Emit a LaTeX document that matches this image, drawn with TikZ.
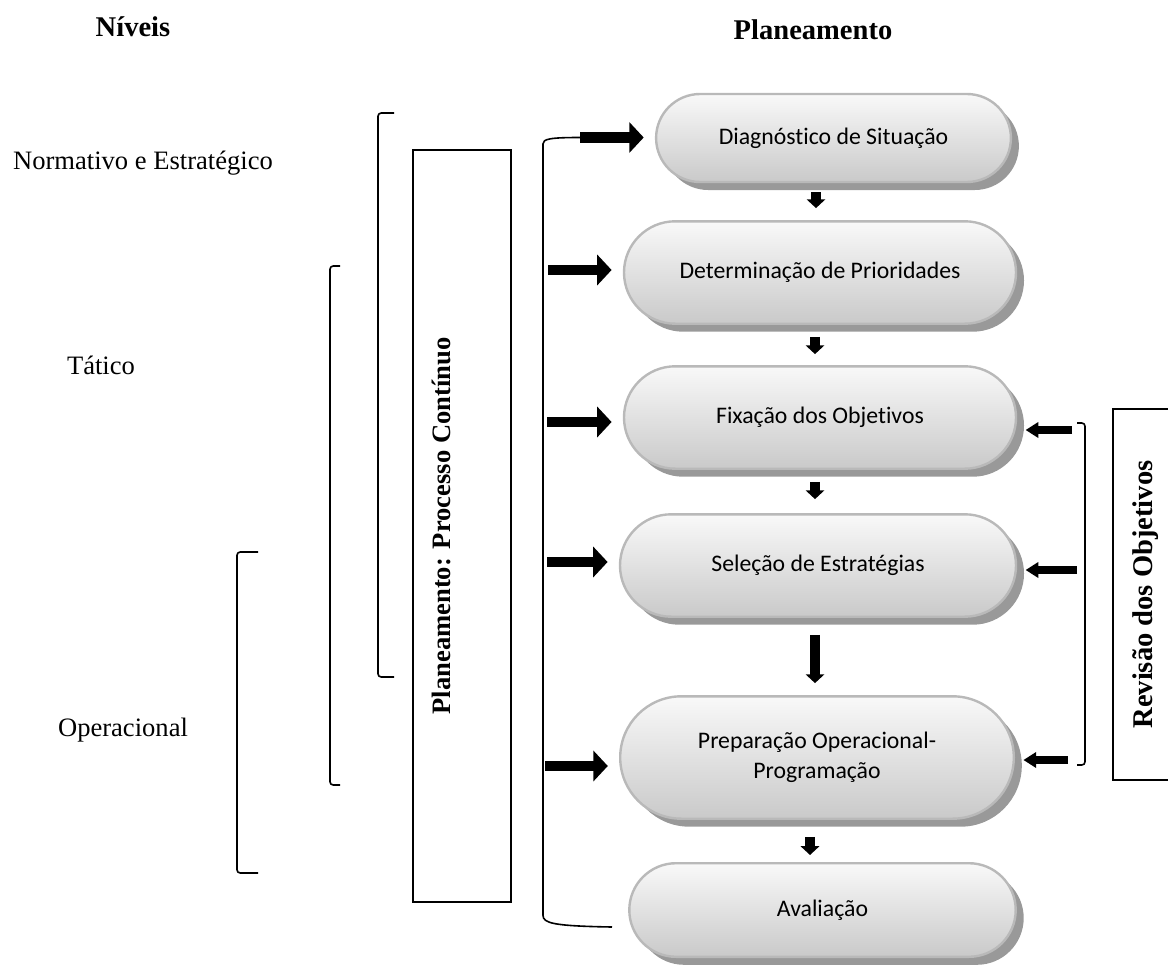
\documentclass[tikz,border=0pt]{standalone}
\usepackage{fontspec}
\setmainfont{Liberation Serif}
\newfontfamily\calibri[Ligatures=NoCommon]{Carlito}
\usetikzlibrary{positioning,calc,shapes.misc,shadows,arrows.meta}

\begin{document}
\begin{tikzpicture}[x=0.25mm,y=-0.25mm,
		pill/.style={rounded rectangle,draw=gray!55,line width=0.6mm,top color=gray!5,bottom color=gray!42,
			drop shadow={shadow xshift=2mm,shadow yshift=-2mm,fill=gray!80,opacity=1},
			font=\calibri\fontsize{16.9}{21.5}\selectfont,align=center,inner sep=0pt},
		bigarrow/.style={line width=2.7mm,-{Triangle[width=7.5mm,length=3.6mm]},shorten >=2.8mm},
		downarrow/.style={line width=2.3mm,-{Triangle[width=4.6mm,length=2.2mm]}},
		backarrow/.style={line width=2mm,-{Triangle[width=3.8mm,length=3.2mm]},shorten >=2.1mm},
		bracket/.style={line width=0.4mm,rounded corners=0.8mm},
		level/.style={font=\fontsize{18.9}{22}\selectfont},
		heading/.style={font=\bfseries\fontsize{20.3}{24}\selectfont}]

		\useasboundingbox (0,0) rectangle (1168,967);

		\node[heading]	(niveis)	at (133,27)	{Níveis};
		\node[heading]	(plan)		at (813,30)	{Planeamento};

		\node[level]	(norm)	at (143,163)	{Normativo e Estratégico};
		\node[level]	(tat)	at (101,365)	{Tático};
		\node[level]	(oper)	at (123,730)	{Operacional};

		\draw[bracket] (394,113) -- (378,113) -- (378,677) -- (394,677);
		\draw[bracket] (340,266) -- (330,266) -- (330,785) -- (340,785);
		\draw[bracket] (258,552) -- (237,552) -- (237,873) -- (258,873);

		\node[draw,line width=0.35mm,minimum width=24.5mm,minimum height=188mm,inner sep=0pt] (pbox) at (462,526) {};
		\node[heading,font=\bfseries\fontsize{18.9}{22}\selectfont,rotate=90] (ptext) at ($(pbox.center)+(-21,0)$) {Planeamento: Processo Contínuo};

		\node[pill,minimum width=88.7mm,minimum height=22mm]	(d1)	at (833.5,138)	{Diagnóstico de Situação};
		\node[pill,minimum width=98mm,minimum height=25.6mm]	(d2)	at (820,272.5)	{Determinação de Prioridades};
		\node[pill,minimum width=98mm,minimum height=25.6mm]	(d3)	at (820,417.5)	{Fixação dos Objetivos};
		\node[pill,minimum width=99mm,minimum height=25.6mm]	(d4)	at (818,565.5)	{Seleção de Estratégias};
		\node[pill,minimum width=98.4mm,minimum height=30.6mm]	(d5)	at (817,757.5)	{Preparação Operacional-\\Programação};
		\node[pill,minimum width=96.6mm,minimum height=23.4mm]	(d6)	at (822.5,910)	{Avaliação};

		\draw[downarrow,shorten <=2.25mm,shorten >=3mm] ($(d1.south)+(-17.5,0)$) -- ($(d2.north)+(-4,0)$);
		\draw[downarrow,shorten <=3mm,shorten >=2.75mm] ($(d2.south)+(-5,0)$) -- ($(d3.north)+(-5,0)$);
		\draw[downarrow,shorten <=3mm,shorten >=3.5mm] ($(d3.south)+(-5,0)$) -- ($(d4.north)+(-3,0)$);
		\draw[downarrow,shorten <=4.25mm,shorten >=3mm] ($(d4.south)+(-3,0)$) -- ($(d5.north)+(-2,0)$);
		\draw[downarrow,shorten <=4.25mm,shorten >=1.75mm] ($(d5.south)+(-7,0)$) -- ($(d6.north)+(-12.5,0)$);

		\coordinate (l1) at (580,137.5);
		\coordinate (l2) at (548,270);
		\coordinate (l3) at (547,422);
		\coordinate (l4) at (547,562);
		\coordinate (l5) at (545,766);
		\coordinate (b1) at (612,927);

		\draw[bracket] (l1) .. controls (550,137.5) and (543,139) .. (543,147) -- (543,912) .. controls (543,923) and (552,926) .. (b1);

		\draw[bigarrow] (l1) -- (l1 -| d1.west);
		\draw[bigarrow] (l2) -- (l2 -| d2.west);
		\draw[bigarrow] (l3) -- (l3 -| d3.west);
		\draw[bigarrow] (l4) -- (l4 -| d4.west);
		\draw[bigarrow] (l5) -- (l5 -| d5.west);

		\coordinate (r1) at (1072,430);
		\coordinate (r2) at (1077,570);
		\coordinate (r3) at (1068,760);

		\draw[bracket] (1077,423) -- (1085,423) -- (1085,765) -- (1077,765);

		\draw[backarrow] (r1) -- (r1 -| d3.east);
		\draw[backarrow] (r2) -- (r2 -| d4.east);
		\draw[backarrow] (r3) -- (r3 -| d5.east);

		\node[draw,line width=0.35mm,rotate=90,minimum width=92.75mm,minimum height=16.5mm,inner sep=0pt,
			font=\bfseries\fontsize{20.3}{24}\selectfont] (rev) at (1146,594.5) {Revisão dos Objetivos};
	\end{tikzpicture}
\end{document}
